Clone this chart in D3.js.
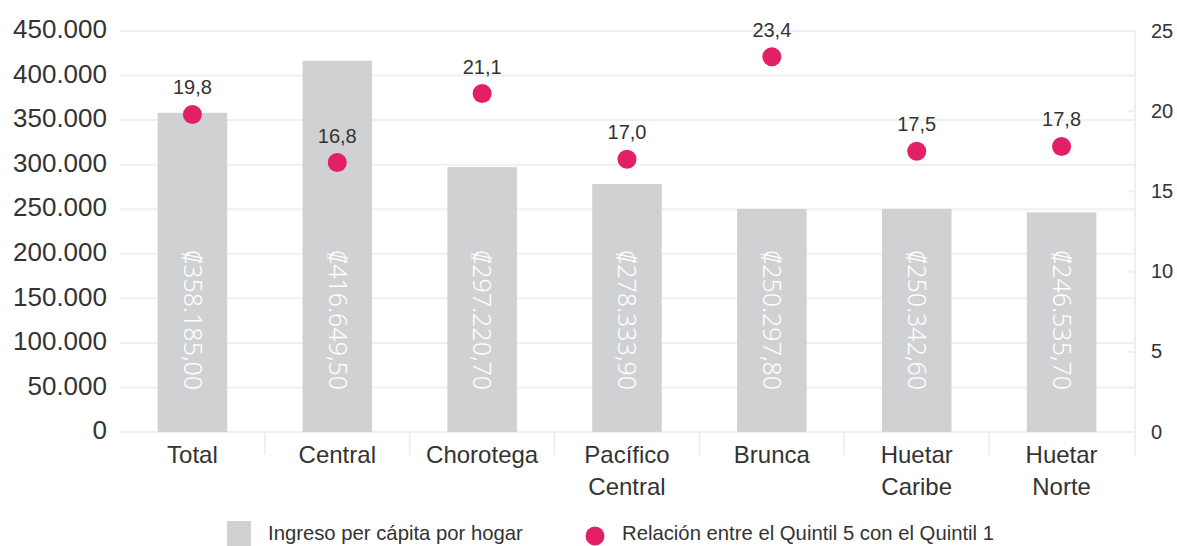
<!DOCTYPE html>
<html>
<head>
<meta charset="utf-8">
<title>Ingreso per cápita por región</title>
<script src="https://d3js.org/d3.v7.min.js"></script>
<style>
  body { margin: 0; background: #fff; }
  svg text { font-family: "Liberation Sans", Arial, sans-serif; fill: #333; }
</style>
</head>
<body>
<div id="chart"></div>
<script>
// data
var regions = ["Total", "Central", "Chorotega", "Pacífico Central", "Brunca", "Huetar Caribe", "Huetar Norte"];
var ingreso = [358185.00, 416649.50, 297220.70, 278333.90, 250297.80, 250342.60, 246535.70];
var ingresoLabels = ["₡358.185,00", "₡416.649,50", "₡297.220,70", "₡278.333,90", "₡250.297,80", "₡250.342,60", "₡246.535,70"];
var relacion = [19.8, 16.8, 21.1, 17.0, 23.4, 17.5, 17.8];
var relacionLabels = ["19,8", "16,8", "21,1", "17,0", "23,4", "17,5", "17,8"];
var leftTicks = [0, 50000, 100000, 150000, 200000, 250000, 300000, 350000, 400000, 450000];
var rightTicks = [0, 5, 10, 15, 20, 25];

var width = 1177, height = 546;
var plot = {left: 120, right: 1134, top: 31, bottom: 432};

var svg = d3.select("#chart").append("svg")
    .attr("width", width)
    .attr("height", height);

var x = d3.scaleBand()
    .domain(regions)
    .range([plot.left, plot.right])
    .paddingInner(0.52)
    .paddingOuter(0.26);

var y = d3.scaleLinear().domain([0, 450000]).range([plot.bottom, plot.top]);
var y2 = d3.scaleLinear().domain([0, 25]).range([plot.bottom, plot.top]);

var fmt = function(d) { return d3.format(",")(d).replace(/,/g, "."); };

// gridlines
svg.append("g").selectAll("line")
    .data(leftTicks)
    .join("line")
    .attr("x1", plot.left).attr("x2", plot.right)
    .attr("y1", function(d) { return y(d); })
    .attr("y2", function(d) { return y(d); })
    .attr("stroke", "#f0f0f0")
    .attr("stroke-width", 2);

// left axis labels
var yAxis = svg.append("g")
    .attr("transform", "translate(" + (plot.left - 13) + ",0)")
    .call(d3.axisLeft(y).tickValues(leftTicks).tickFormat(fmt).tickSize(0).tickPadding(0));
yAxis.select(".domain").remove();
yAxis.selectAll("text")
    .attr("font-size", 26)
    .attr("dy", "0.26em")
    .style("font-family", "'Liberation Sans', Arial, sans-serif")
    .attr("fill", "#333");

// category separators
var seps = regions.slice(1).map(function(r) { return x(r) - (x.step() - x.bandwidth()) / 2; });
svg.append("g").selectAll("line")
    .data(seps)
    .join("line")
    .attr("x1", function(d) { return d; }).attr("x2", function(d) { return d; })
    .attr("y1", plot.bottom).attr("y2", plot.bottom + 23)
    .attr("stroke", "#efefef")
    .attr("stroke-width", 2);

// right axis
svg.append("line")
    .attr("x1", plot.right + 1).attr("x2", plot.right + 1)
    .attr("y1", plot.top).attr("y2", plot.bottom + 23)
    .attr("stroke", "#efefef")
    .attr("stroke-width", 2);
var yAxis2 = svg.append("g")
    .attr("transform", "translate(" + (plot.right + 1) + ",0)")
    .call(d3.axisRight(y2).tickValues(rightTicks).tickSize(0).tickPadding(16));
yAxis2.select(".domain").remove();
yAxis2.selectAll("text")
    .attr("font-size", 20)
    .attr("dy", "0.3em")
    .style("font-family", "'Liberation Sans', Arial, sans-serif")
    .attr("fill", "#333");
svg.append("g").selectAll("line")
    .data(rightTicks)
    .join("line")
    .attr("x1", plot.right - 6).attr("x2", plot.right + 1)
    .attr("y1", function(d) { return y2(d); })
    .attr("y2", function(d) { return y2(d); })
    .attr("stroke", "#efefef")
    .attr("stroke-width", 2);

// bars
svg.append("g").selectAll("rect")
    .data(regions)
    .join("rect")
    .attr("x", function(d) { return x(d); })
    .attr("width", x.bandwidth())
    .attr("y", function(d, i) { return y(ingreso[i]); })
    .attr("height", function(d, i) { return y(0) - y(ingreso[i]); })
    .attr("fill", "#d0d1d3");

// labels inside bars
svg.append("g").selectAll("text")
    .data(regions)
    .join("text")
    .attr("transform", function(d) {
        return "translate(" + (x(d) + x.bandwidth() / 2) + "," + y(47000) + ") rotate(90)";
    })
    .attr("text-anchor", "end")
    .attr("dy", "0.35em")
    .attr("font-size", 25)
    .style("font-family", "'Noto Sans', 'Open Sans', sans-serif")
    .style("font-weight", 300)
    .style("fill", "#fff")
    .text(function(d, i) { return ingresoLabels[i]; });

// category labels
var cat = svg.append("g").selectAll("text")
    .data(regions)
    .join("text")
    .attr("x", function(d) { return x(d) + x.bandwidth() / 2; })
    .attr("y", 463)
    .attr("text-anchor", "middle")
    .attr("font-size", 24);
cat.each(function(d) {
    var t = d3.select(this);
    d.split(" ").forEach(function(w, k) {
        t.append("tspan")
            .attr("x", x(d) + x.bandwidth() / 2)
            .attr("dy", k === 0 ? 0 : 32)
            .text(w);
    });
});

// dots
svg.append("g").selectAll("circle")
    .data(regions)
    .join("circle")
    .attr("cx", function(d) { return x(d) + x.bandwidth() / 2; })
    .attr("cy", function(d, i) { return y2(relacion[i]); })
    .attr("r", 9.5)
    .attr("fill", "#e21f67");

svg.append("g").selectAll("text")
    .data(regions)
    .join("text")
    .attr("x", function(d) { return x(d) + x.bandwidth() / 2; })
    .attr("y", function(d, i) { return y2(relacion[i]) - 20; })
    .attr("text-anchor", "middle")
    .attr("font-size", 20)
    .text(function(d, i) { return relacionLabels[i]; });

// legend
var legend = svg.append("g");
legend.append("rect")
    .attr("x", 227).attr("y", 521)
    .attr("width", 24).attr("height", 30)
    .attr("fill", "#d0d1d3");
legend.append("text")
    .attr("x", 268).attr("y", 540)
    .attr("font-size", 20.3)
    .text("Ingreso per cápita por hogar");
legend.append("circle")
    .attr("cx", 595).attr("cy", 536)
    .attr("r", 9.5)
    .attr("fill", "#e21f67");
legend.append("text")
    .attr("x", 622).attr("y", 540)
    .attr("font-size", 20.3)
    .text("Relación entre el Quintil 5 con el Quintil 1");
</script>
</body>
</html>
